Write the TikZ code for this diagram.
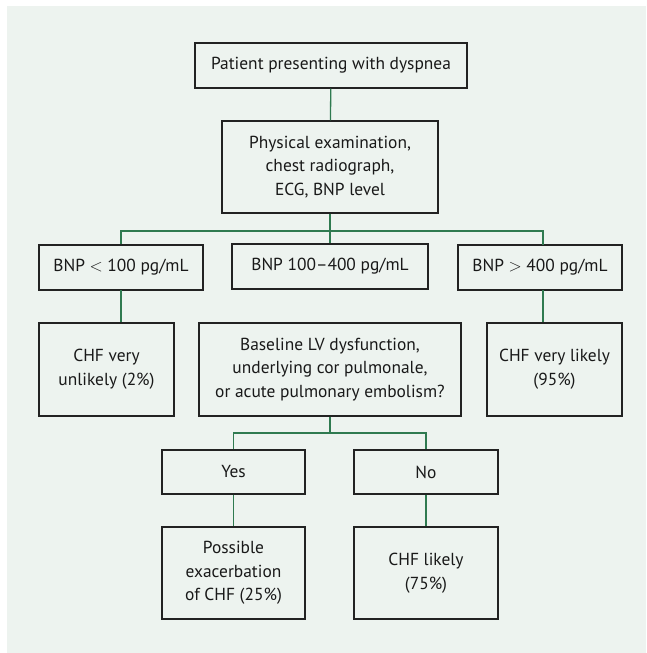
\documentclass[tikz,border=0pt]{standalone}
\usepackage{fontspec}
\setmainfont{PT Sans}
\definecolor{bgc}{HTML}{EDF3EF}
\definecolor{linec}{HTML}{2F7A50}
\definecolor{boxc}{HTML}{222222}
\begin{document}
\begin{tikzpicture}[x=1pt,y=-1pt,
  box/.style={draw=boxc, line width=1.3pt, fill=bgc, align=center, inner sep=0pt,
    font=\fontsize{17.4}{23.6}\selectfont, text=black!90},
  conn/.style={draw=linec, line width=1.3pt}]
\useasboundingbox (0,0) rectangle (647,653);
\fill[white] (0,0) rectangle (647,653);
\fill[bgc] (7,6) rectangle (646,653);
\node[box, minimum width=272pt, minimum height=45pt] (top) at (331,65.5) {Patient presenting with dyspnea};
\node[box, minimum width=216pt, minimum height=92pt] (exam) at (330,167) {Physical examination,\\chest radiograph,\\ECG, BNP level};
\node[box, minimum width=164pt, minimum height=45pt] (b1) at (121,267.5) {BNP $<$ 100 pg/mL};
\node[box, minimum width=196pt, minimum height=45pt] (b2) at (330,266.5) {BNP 100–400 pg/mL};
\node[box, minimum width=164pt, minimum height=45pt] (b3) at (540,267.5) {BNP $>$ 400 pg/mL};
\node[box, minimum width=135pt, minimum height=93pt] (u1) at (106.5,369.5) {CHF very\\unlikely (2\%)};
\node[box, minimum width=262pt, minimum height=93pt] (mid) at (330,369.5) {Baseline LV dysfunction,\\underlying cor pulmonale,\\or acute pulmonary embolism?};
\node[box, minimum width=135pt, minimum height=93pt] (u3) at (554.5,369.5) {CHF very likely\\(95\%)};
\node[box, minimum width=143pt, minimum height=44pt] (yes) at (233.5,472) {Yes};
\node[box, minimum width=144pt, minimum height=44pt] (no) at (426,472) {No};
\node[box, minimum width=143pt, minimum height=92pt] (poss) at (233.5,573) {Possible\\exacerbation\\of CHF (25\%)};
\node[box, minimum width=144pt, minimum height=92pt] (lik) at (426,573) {CHF likely\\(75\%)};
\coordinate (j1) at (330,231);
\coordinate (j2) at (330,433);
\coordinate (c1) at (121,290);
\coordinate (c3) at (543,290);
\coordinate (t3) at (543,245);
\path[conn] (top) -- (exam);
\path[conn] (exam) -- (b2);
\path[conn] (b1.north) |- (j1) -| (t3);
\path[conn] (c1) -- (c1 |- u1.north);
\path[conn] (c3) -- (c3 |- u3.north);
\path[conn] (mid) -- (j2);
\path[conn] (yes.north) |- (j2) -| (no.north);
\path[conn] (yes) -- (poss);
\path[conn] (no) -- (lik);
\end{tikzpicture}
\end{document}
